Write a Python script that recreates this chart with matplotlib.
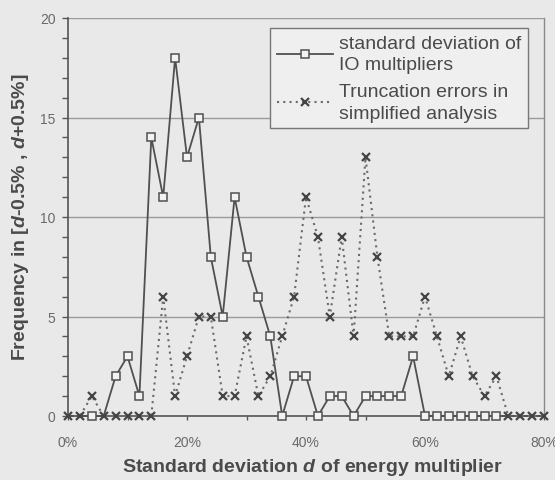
import numpy as np
import matplotlib
matplotlib.use("Agg")
import matplotlib.pyplot as plt
from matplotlib.ticker import FixedLocator, FuncFormatter

plt.rcParams['font.family'] = ['Liberation Sans', 'DejaVu Sans']
plt.rcParams['mathtext.fontset'] = 'custom'
plt.rcParams['mathtext.rm'] = 'Liberation Sans'
plt.rcParams['mathtext.it'] = 'Liberation Sans:italic'
plt.rcParams['mathtext.bf'] = 'Liberation Sans:bold'
plt.rcParams['mathtext.bfit'] = 'Liberation Sans:italic:bold'

# ---- data ----
std_dev_pct = [0, 2, 4, 6, 8, 10, 12, 14, 16, 18, 20, 22, 24, 26, 28, 30, 32, 34, 36, 38,
               40, 42, 44, 46, 48, 50, 52, 54, 56, 58, 60, 62, 64, 66, 68, 70, 72, 74, 76, 78, 80]
io_multipliers = [0, 0, 0, 0, 2, 3, 1, 14, 11, 18, 13, 15, 8, 5, 11, 8, 6, 4, 0, 2,
                  2, 0, 1, 1, 0, 1, 1, 1, 1, 3, 0, 0, 0, 0, 0, 0, 0, 0, 0, 0, 0]
truncation_errors = [0, 0, 1, 0, 0, 0, 0, 0, 6, 1, 3, 5, 5, 1, 1, 4, 1, 2, 4, 6,
                     11, 9, 5, 9, 4, 13, 8, 4, 4, 4, 6, 4, 2, 4, 2, 1, 2, 0, 0, 0, 0]
series_names = ["standard deviation of\nIO multipliers",
                "Truncation errors in\nsimplified analysis"]
x_tick_values = [0, 20, 40, 60, 80]
y_tick_values = [0, 5, 10, 15, 20]

bg = '#e9e9e9'
W, H = 555, 481
fig = plt.figure(figsize=(W / 100, H / 100), dpi=100, facecolor=bg)
L, R, T, B = 68, 544, 19, 417
ax = fig.add_axes([L / W, 1 - B / H, (R - L) / W, (B - T) / H])
ax.set_facecolor('none')

x = np.array(std_dev_pct)
sq = np.array(io_multipliers)
tr = np.array(truncation_errors)
show_sq = list(~((sq == 0) & (tr == 0)))

ax.plot(x, sq, color='#505050', lw=1.3, marker='s', ms=5.5, mfc='#f2f2f2',
        mec='#505050', mew=1.1, markevery=show_sq, clip_on=False, zorder=3,
        label=series_names[0])
ax.plot(x, tr, color='#6a6a6a', lw=1.5, ls=(0, (1, 2)), marker='x', ms=5.5,
        mec='#454545', mew=1.6, clip_on=False, zorder=4, label=series_names[1])

ax.set_xlim(0, 80)
ax.set_ylim(0, 20)

ax.yaxis.set_major_locator(FixedLocator(y_tick_values))
ax.yaxis.set_minor_locator(FixedLocator(np.arange(0, 21, 1)))
ax.xaxis.set_major_locator(FixedLocator(np.arange(0, 81, 10)))
ax.xaxis.set_major_formatter(FuncFormatter(lambda v, p: f"{int(v)}%" if int(v) in x_tick_values else ""))

ax.grid(axis='y', which='major', color='#9a9a9a', lw=1.0, zorder=0)
ax.set_axisbelow(True)

ax.spines['top'].set_visible(False)
ax.spines['right'].set_color('#8a8a8a')
ax.spines['right'].set_linewidth(1.0)
ax.spines['left'].set_color('#555555')
ax.spines['left'].set_linewidth(1.2)
ax.spines['bottom'].set_color('#555555')
ax.spines['bottom'].set_linewidth(1.2)

ax.tick_params(axis='y', which='major', length=4, width=1, color='#555555',
               labelsize=10, labelcolor='#6a6a6a', pad=5)
ax.tick_params(axis='y', which='minor', length=4, width=1, color='#555555')
ax.tick_params(axis='x', which='major', length=3, width=1, color='#555555',
               labelsize=10, labelcolor='#6a6a6a', pad=11)

fig.text(313 / W, 1 - 468 / H, r"Standard deviation $\mathbfit{d}$ of energy multiplier",
         fontsize=14, fontweight='bold', color='#4a4a4a', ha='center', va='center')
fig.text(21 / W, 1 - 217 / H, r"Frequency in [$\mathbfit{d}$-0.5% , $\mathbfit{d}$+0.5%]",
         fontsize=14, fontweight='bold', color='#4a4a4a', ha='center', va='center',
         rotation=90)

leg = ax.legend(loc='upper left', bbox_to_anchor=((270 - L) / (R - L), 1 - (29 - T) / (B - T)),
                fontsize=14, frameon=True, fancybox=False, handlelength=2.9,
                handletextpad=0.3, borderpad=0.35, labelspacing=0.5, borderaxespad=0)
leg.get_frame().set_facecolor('#efefef')
leg.get_frame().set_edgecolor('#777777')
leg.get_frame().set_linewidth(1.0)
leg.get_frame().set_alpha(1)
for t in leg.get_texts():
    t.set_color('#4a4a4a')
    t.set_linespacing(1.35)

fig.savefig('out.png', dpi=100, facecolor=bg)
